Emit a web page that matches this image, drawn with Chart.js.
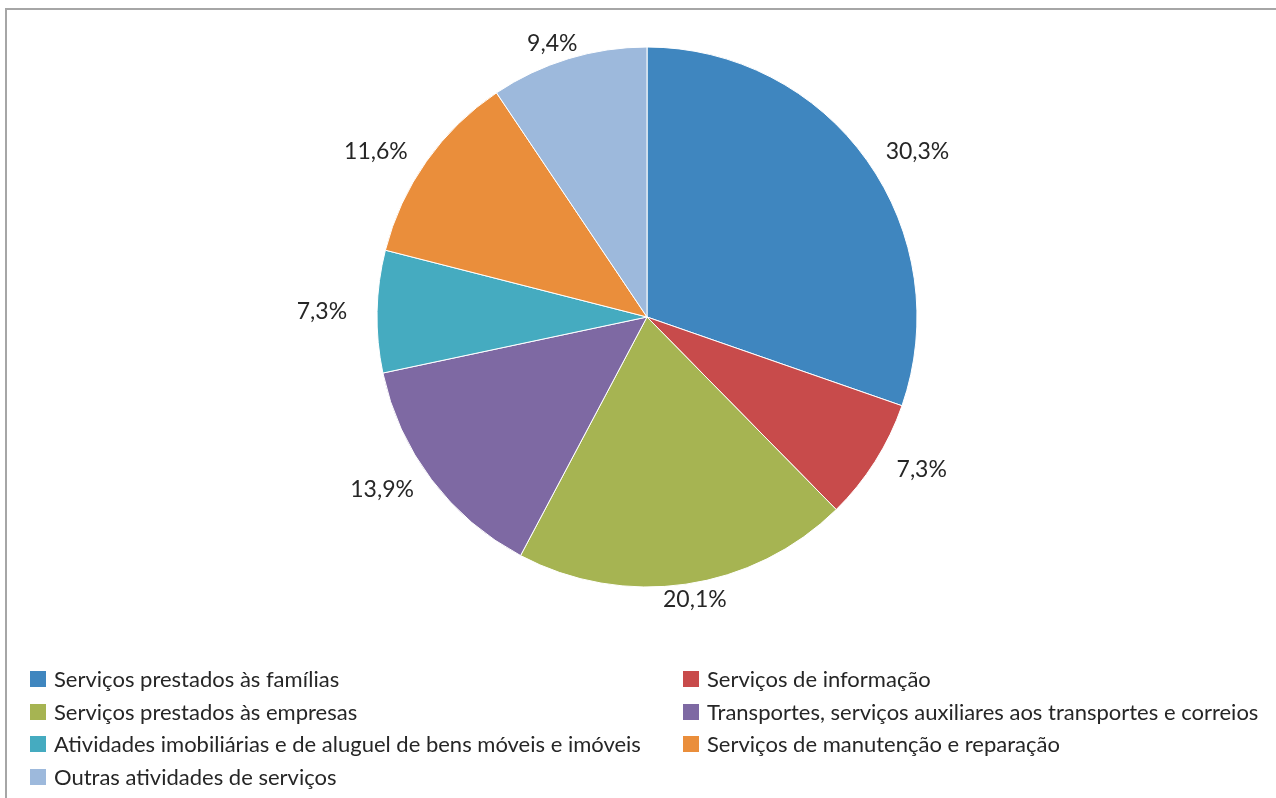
<!DOCTYPE html>
<html>
<head>
<meta charset="utf-8">
<script src="https://cdn.jsdelivr.net/npm/chart.js@4"></script>
<style>
  html, body { margin: 0; padding: 0; background: #fff; overflow: hidden; }
  #wrap { position: relative; width: 1276px; height: 798px; overflow: hidden; }
  #frame { position: absolute; left: 5px; top: 8px; width: 1400px; height: 900px; border: 2px solid #a6a6a6; }
  #chart { position: absolute; left: 0; top: 0; }
  .lg { position: absolute; font-family: Lato, sans-serif; font-size: 22px; color: #262626; white-space: nowrap; line-height: 26px; }
  .lg span { position: absolute; left: 0; top: 5px; width: 16px; height: 16px; }
  .lg div { position: absolute; left: 24px; top: 0; }
</style>
</head>
<body>
<div id="wrap">
  <div id="frame"></div>
  <canvas id="chart" width="1276" height="798"></canvas>
</div>
<script>
const categories = [
  'Serviços prestados às famílias',
  'Serviços de informação',
  'Serviços prestados às empresas',
  'Transportes, serviços auxiliares aos transportes e correios',
  'Atividades imobiliárias e de aluguel de bens móveis e imóveis',
  'Serviços de manutenção e reparação',
  'Outras atividades de serviços'
];
const shares = [30.3, 7.3, 20.1, 13.9, 7.3, 11.6, 9.4];
const colors = ['#3f86bf', '#c84b4b', '#a6b452', '#7e69a3', '#45abc0', '#ea8e3b', '#9db9dc'];

// percentage labels outside the slices
const outsideLabels = {
  id: 'outsideLabels',
  afterDatasetsDraw(chart) {
    const ctx = chart.ctx;
    const meta = chart.getDatasetMeta(0);
    ctx.save();
    ctx.font = '23px Lato, sans-serif';
    ctx.fillStyle = '#262626';
    ctx.textAlign = 'center';
    ctx.textBaseline = 'middle';
    meta.data.forEach((arc, i) => {
      const p = arc.getProps(['x', 'y', 'startAngle', 'endAngle', 'outerRadius'], true);
      const mid = (p.startAngle + p.endAngle) / 2;
      const txt = shares[i].toFixed(1).replace('.', ',') + '%';
      const w = ctx.measureText(txt).width;
      const x = p.x + (p.outerRadius + 30 + w / 2) * Math.cos(mid);
      const y = p.y + (p.outerRadius + 16) * Math.sin(mid);
      ctx.fillText(txt, x, y);
    });
    ctx.restore();
  }
};

new Chart(document.getElementById('chart'), {
  type: 'pie',
  data: {
    labels: categories,
    datasets: [{
      data: shares,
      backgroundColor: colors,
      borderColor: '#ffffff',
      borderWidth: 1,
      radius: 270
    }]
  },
  options: {
    responsive: false,
    animation: false,
    layout: { padding: { left: 18, right: 0, top: 20, bottom: 184 } },
    plugins: {
      legend: { display: false },
      tooltip: { enabled: false }
    }
  },
  plugins: [outsideLabels]
});

// legend in two columns, filled row by row
const wrap = document.getElementById('wrap');
categories.forEach((name, i) => {
  const col = i % 2;
  const row = Math.floor(i / 2);
  const item = document.createElement('div');
  item.className = 'lg';
  item.style.left = (col === 0 ? 30 : 683) + 'px';
  item.style.top = (666 + row * 32.5) + 'px';
  item.innerHTML = '<span style="background:' + colors[i] + '"></span><div>' + name + '</div>';
  wrap.appendChild(item);
});
</script>
</body>
</html>
